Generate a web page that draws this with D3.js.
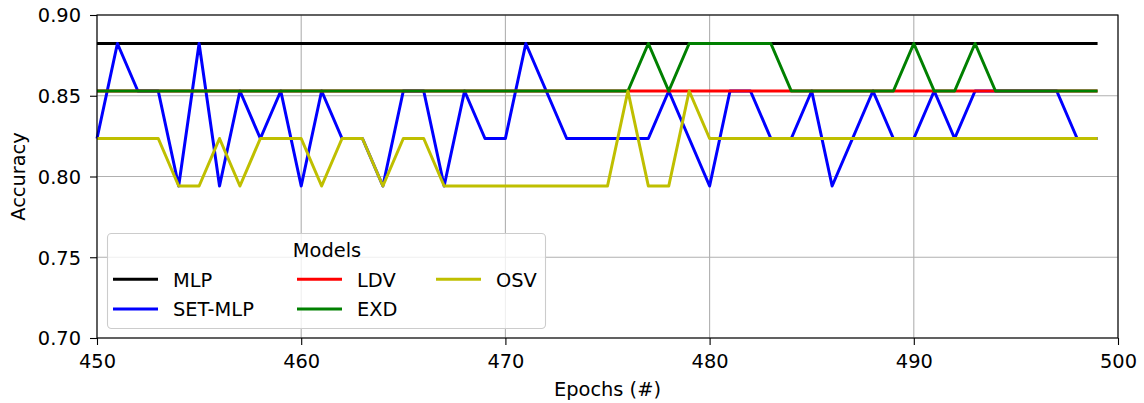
<!DOCTYPE html>
<html>
<head>
<meta charset="utf-8">
<script src="https://cdn.jsdelivr.net/npm/d3@7"></script>
<style>
  body { margin: 0; background: #fff; }
  svg { display: block; font-family: "DejaVu Sans", sans-serif; }
</style>
</head>
<body>
<div id="chart"></div>
<script>
// accuracy levels (test accuracy on 34 samples)
const H = 30 / 34, M = 29 / 34, L = 28 / 34, B = 27 / 34;

const epochs = d3.range(450, 500);
const mlp = epochs.map(() => H);
const setMlp = [L, H, M, M, B, H, B, M, L, M,
                B, M, L, L, B, M, M, B, M, L,
                L, H, M, L, L, L, L, L, M, L,
                B, M, M, L, L, M, B, L, M, L,
                L, M, L, M, M, M, M, M, L, L];
const ldv = epochs.map(() => M);
const exd = [M, M, M, M, M, M, M, M, M, M,
             M, M, M, M, M, M, M, M, M, M,
             M, M, M, M, M, M, M, H, M, H,
             H, H, H, H, M, M, M, M, M, M,
             H, M, M, H, M, M, M, M, M, M];
const osv = [L, L, L, L, B, B, L, B, L, L,
             L, B, L, L, B, L, L, B, B, B,
             B, B, B, B, B, B, M, B, B, M,
             L, L, L, L, L, L, L, L, L, L,
             L, L, L, L, L, L, L, L, L, L];

const seriesNames = ["MLP", "SET-MLP", "LDV", "EXD", "OSV"];
const seriesValues = [mlp, setMlp, ldv, exd, osv];
const seriesColors = ["#000000", "#0000ff", "#ff0000", "#008000", "#bfbf00"];

const xTicks = [450, 460, 470, 480, 490, 500];
const yTicks = [0.70, 0.75, 0.80, 0.85, 0.90];

const width = 1144, height = 403;
const margin = { top: 15, right: 26, bottom: 65, left: 97 };
const fs = 19.4;

const svg = d3.select("#chart").append("svg")
  .attr("width", width)
  .attr("height", height);

const x = d3.scaleLinear().domain([450, 500]).range([margin.left, width - margin.right]);
const y = d3.scaleLinear().domain([0.70, 0.90]).range([height - margin.bottom, margin.top]);

// grid
svg.append("g")
  .selectAll("line.gx")
  .data(xTicks)
  .join("line")
  .attr("x1", d => x(d)).attr("x2", d => x(d))
  .attr("y1", y(0.70)).attr("y2", y(0.90))
  .attr("stroke", "#b0b0b0").attr("stroke-width", 1.1);

svg.append("g")
  .selectAll("line.gy")
  .data(yTicks)
  .join("line")
  .attr("x1", x(450)).attr("x2", x(500))
  .attr("y1", d => y(d)).attr("y2", d => y(d))
  .attr("stroke", "#b0b0b0").attr("stroke-width", 1.1);

// lines
const line = d3.line()
  .x((d, i) => x(epochs[i]))
  .y(d => y(d));

svg.append("g")
  .selectAll("path")
  .data(seriesValues)
  .join("path")
  .attr("d", d => line(d))
  .attr("fill", "none")
  .attr("stroke", (d, i) => seriesColors[i])
  .attr("stroke-width", 3)
  .attr("stroke-linejoin", "round");

// axes
const xAxis = svg.append("g")
  .attr("transform", `translate(0,${y(0.70)})`)
  .call(d3.axisBottom(x).tickValues(xTicks).tickFormat(d3.format("d")).tickSize(7).tickPadding(9));
const yAxis = svg.append("g")
  .attr("transform", `translate(${x(450)},0)`)
  .call(d3.axisLeft(y).tickValues(yTicks).tickFormat(d3.format(".2f")).tickSize(7).tickPadding(9));

[xAxis, yAxis].forEach(a => {
  a.select(".domain").remove();
  a.selectAll(".tick line").attr("stroke", "#000").attr("stroke-width", 1.1);
  a.selectAll(".tick text").attr("fill", "#000").style("font-size", fs + "px")
    .style("font-family", "DejaVu Sans, sans-serif");
});
yAxis.selectAll(".tick text").attr("dy", "0.36em");

// frame
svg.append("rect")
  .attr("x", x(450)).attr("y", y(0.90))
  .attr("width", x(500) - x(450)).attr("height", y(0.70) - y(0.90))
  .attr("fill", "none").attr("stroke", "#000").attr("stroke-width", 1.1);

// axis labels
svg.append("text")
  .attr("x", (x(450) + x(500)) / 2).attr("y", 396)
  .attr("text-anchor", "middle").style("font-size", fs + "px")
  .text("Epochs (#)");

svg.append("text")
  .attr("transform", `translate(24.5,${(y(0.70) + y(0.90)) / 2}) rotate(-90)`)
  .attr("text-anchor", "middle").style("font-size", fs + "px")
  .text("Accuracy");

// legend
const lg = svg.append("g");
lg.append("rect")
  .attr("x", 107.5).attr("y", 233.5).attr("width", 438).attr("height", 95)
  .attr("rx", 4).attr("fill", "#fff").attr("fill-opacity", 0.8)
  .attr("stroke", "#cccccc").attr("stroke-width", 1.1);
lg.append("text")
  .attr("x", 327).attr("y", 256.7).attr("text-anchor", "middle")
  .style("font-size", fs + "px").text("Models");

const cols = [113, 297, 436];
const rows = [279.3, 309];
const legendItems = seriesNames.map((n, i) => ({
  name: n, color: seriesColors[i],
  cx: cols[Math.floor(i / 2)], cy: rows[i % 2]
}));

const li = lg.selectAll("g.item").data(legendItems).join("g");
li.append("line")
  .attr("x1", d => d.cx).attr("x2", d => d.cx + 45)
  .attr("y1", d => d.cy).attr("y2", d => d.cy)
  .attr("stroke", d => d.color).attr("stroke-width", 3);
li.append("text")
  .attr("x", d => d.cx + 60).attr("y", d => d.cy + 7.3)
  .style("font-size", fs + "px").text(d => d.name);
</script>
</body>
</html>
